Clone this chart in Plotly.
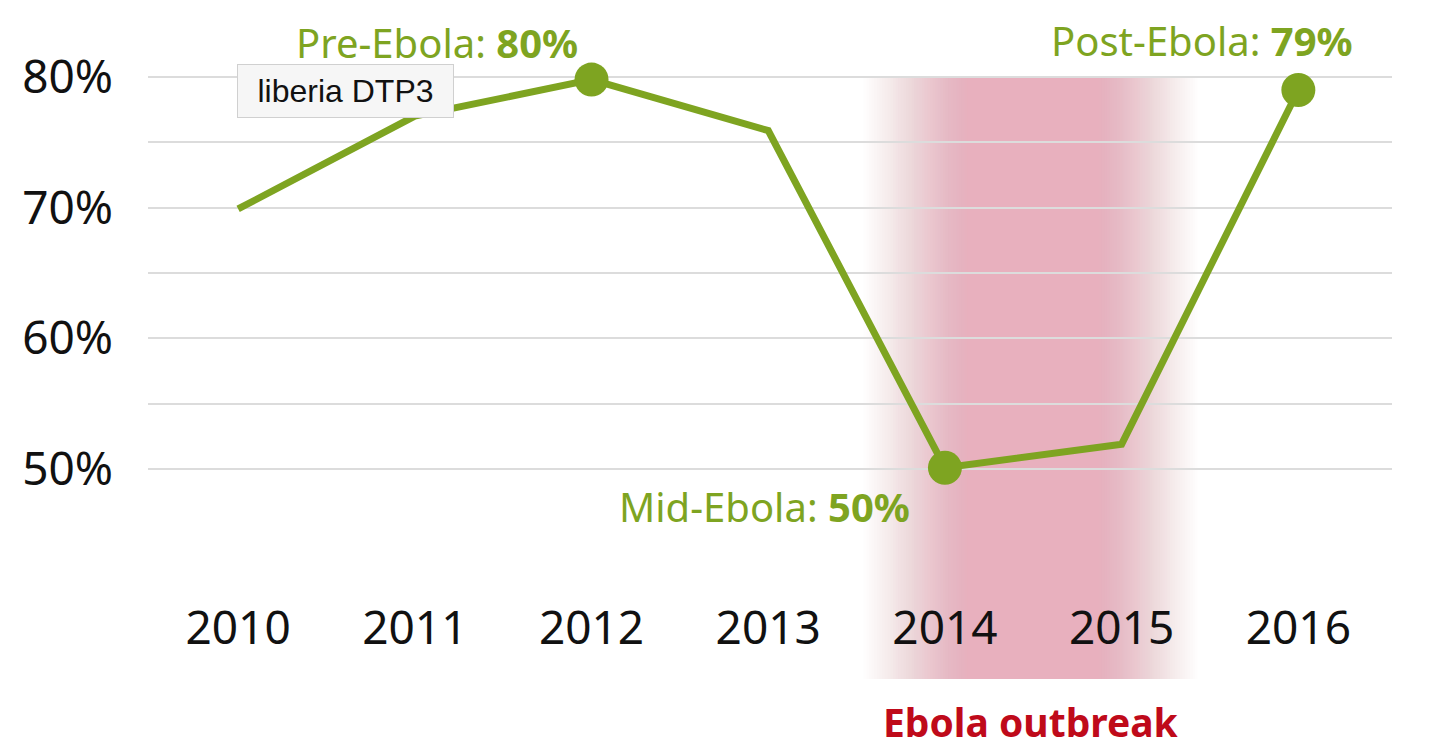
import plotly.graph_objects as go

# ---- data ----
years = [2010, 2011, 2012, 2013, 2014, 2015, 2016]
dtp3 = [69.9, 77.0, 79.8, 75.9, 50.1, 51.9, 79.0]
highlight = [False, False, True, False, True, False, True]

y_ticks = [45, 50, 55, 60, 65, 70, 75, 80, 85]
y_ticktext = ["", "50%", "", "60%", "", "70%", "", "80%", ""]

outbreak_start, outbreak_full_start, outbreak_full_end, outbreak_end = 2013.54, 2014.14, 2014.86, 2015.43
outbreak_top_value = 80

labels = [
    ("Pre-Ebola: ", "80%", 2012, 79.8),
    ("Mid-Ebola: ", "50%", 2014, 50.1),
    ("Post-Ebola: ", "79%", 2016, 79.0),
]

GREEN = "#7ea421"
PINK = (232, 176, 190)
RED = "#bf0a1a"
FONT = "Noto Sans"

y_range = [44.95, 85.05]
x_range = [2009.49, 2016.53]

fig = go.Figure()

fig.add_trace(go.Scatter(
    x=years, y=dtp3, mode="lines+markers",
    line=dict(color=GREEN, width=7),
    marker=dict(color=GREEN, size=[34 if h else 0 for h in highlight],
                opacity=1, line=dict(width=0)),
    hoverinfo="skip", showlegend=False,
))

# gradient band (below gridlines): nested rectangles giving a linear fade
def to_paper(v):
    return (v - y_range[0]) / (y_range[1] - y_range[0])

band_top = to_paper(outbreak_top_value)
band_bottom = -0.275
shapes = []
N = 40
wl = (outbreak_full_start - outbreak_start) / N
wr = (outbreak_end - outbreak_full_end) / N
for k in range(1, N + 1):
    alpha = 1.0 / (N - k + 1)
    shapes.append(dict(
        type="rect", xref="x", yref="paper",
        x0=outbreak_start + (k - 1) * wl, x1=outbreak_end - (k - 1) * wr,
        y0=band_bottom, y1=band_top,
        fillcolor=f"rgba({PINK[0]},{PINK[1]},{PINK[2]},{alpha:.4f})",
        line=dict(width=0), layer="below",
    ))

annotations = []
shifts = {2012: (-12, 37, "middle"), 2014: (-33, -39, "middle"), 2016: (57, 50, "middle")}
for pre, val, x, y in labels:
    xs, ys, ya = shifts[x]
    annotations.append(dict(
        x=x, y=y, xref="x", yref="y", text=f"{pre}<b>{val}</b>",
        showarrow=False, xanchor="right", yanchor=ya, xshift=xs, yshift=ys,
        font=dict(family=FONT, size=40, color=GREEN),
    ))

annotations.append(dict(
    x=(outbreak_start + outbreak_end) / 2, y=-0.356, xref="x", yref="paper",
    text="<b>Ebola outbreak</b>", showarrow=False, xanchor="center", yanchor="middle",
    font=dict(family=FONT, size=39, color=RED),
))

# tooltip box
annotations.append(dict(
    x=2011, y=dtp3[1], xref="x", yref="y", text="liberia DTP3",
    showarrow=False, xanchor="right", yanchor="bottom", xshift=39, yshift=-2,
    width=215, height=52, borderpad=0, borderwidth=1,
    bgcolor="#f6f6f6", bordercolor="#d0d0d0",
    font=dict(family="Liberation Sans", size=32, color="#111111"),
))

fig.update_layout(
    width=1440, height=750,
    margin=dict(l=148, r=48, t=11, b=215),
    plot_bgcolor="white", paper_bgcolor="white",
    shapes=shapes, annotations=annotations,
    xaxis=dict(
        range=x_range, tickvals=years, ticktext=[str(y) for y in years],
        showgrid=False, zeroline=False, showline=False, ticks="",
        tickfont=dict(family=FONT, size=46, color="#111111"),
        ticklabelstandoff=62,
    ),
    yaxis=dict(
        range=y_range, tickvals=y_ticks, ticktext=y_ticktext,
        showgrid=True, gridcolor="#dcdcdc", gridwidth=2,
        zeroline=False, showline=False, ticks="",
        tickfont=dict(family=FONT, size=46, color="#111111"),
        ticklabelstandoff=34,
    ),
)

fig.write_html("out.html")
